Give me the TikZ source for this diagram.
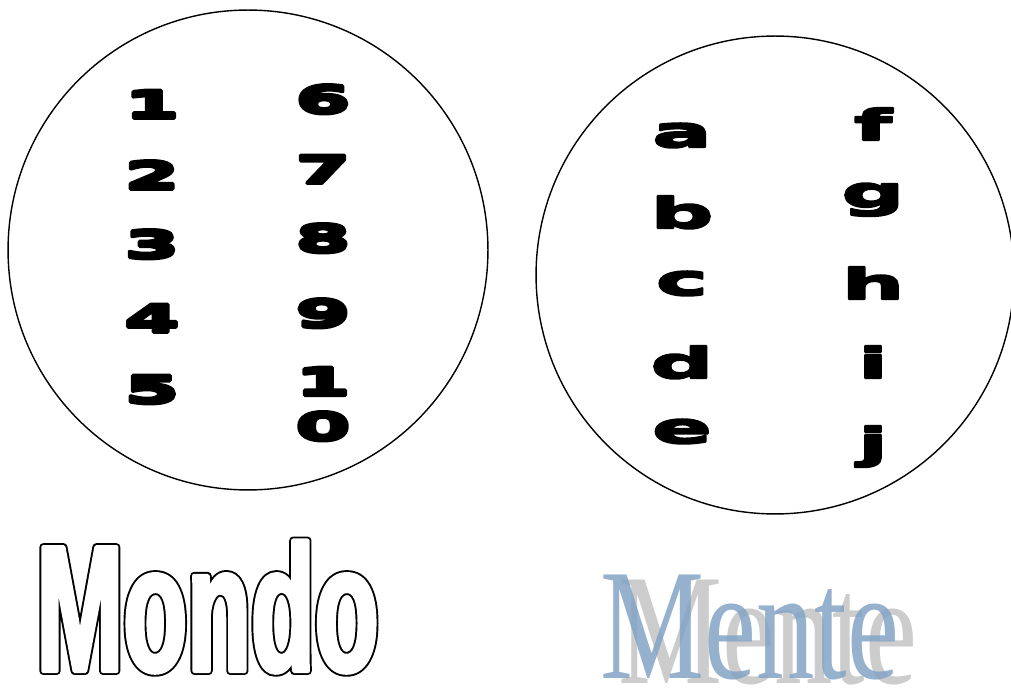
\documentclass[tikz,border=0pt]{standalone}
\usepackage{fontspec}
\usepackage{tikz}
\usetikzlibrary{positioning}
\newfontfamily\digitfont[FakeStretch=2.1]{DejaVu Sans Bold}
\newfontfamily\letterfont[FakeStretch=2.1]{DejaVu Sans Bold}
\newfontfamily\mondofont[FakeStretch=0.58]{Liberation Sans Bold}
\newfontfamily\mentefont[FakeStretch=0.74]{Liberation Serif}
\definecolor{menteblue}{RGB}{130,163,198}
\definecolor{menteshade}{RGB}{204,204,204}
\newcommand\heavyon[1]{\special{pdf:literal 2 Tr #1 w 1 j}}
\newcommand\inkoff{\special{pdf:literal 0 Tr}}
\newcommand\hollowword[1]{%
  \rlap{\special{pdf:literal 1 Tr 4.5 w 1 j}#1\inkoff}%
  {\color{white}\special{pdf:literal 2 Tr 2.3 w 1 j}#1\inkoff}}

\begin{document}
\begin{tikzpicture}[
        x = 0.02cm, y = 0.02cm,
        ring/.style={circle, draw, line width=0.8pt, inner sep=0pt},
        digit/.style={inner sep=0pt, anchor=base, font=\digitfont\fontsize{21.5}{25.5}\selectfont,
            execute at begin node=\heavyon{2.2}, execute at end node=\inkoff},
        letter/.style={inner sep=0pt, anchor=base, font=\letterfont\fontsize{24}{28}\selectfont,
            execute at begin node=\heavyon{1.3}, execute at end node=\inkoff},
        mondo/.style={inner sep=0pt, anchor=base west, font=\mondofont\fontsize{102.5}{110}\selectfont},
        mente/.style={inner sep=0pt, anchor=base west, font=\mentefont\fontsize{90}{100}\selectfont}
    ]
        \useasboundingbox (0,0) rectangle (1011,687);
        \node[ring, minimum size=9.6cm] (world) at (248,437) {};
        \node[ring, minimum size=9.56cm] (mind) at (775,412) {};

        \node[digit] (n1) at (152,569) {1};
        \node[digit] (n2) at (152,498) {2};
        \node[digit] (n3) at (152,429) {3};
        \node[digit] (n4) at (152,355) {4};
        \node[digit] (n5) at (152,284) {5};
        \node[digit] (n6) at (323,574) {6};
        \node[digit] (n7) at (323,504) {7};
        \node[digit] (n8) at (323,435) {8};
        \node[digit] (n9) at (323,360) {9};
        \node[digit, align=center] (n10) at (323,247) {1\\0};

        \node[letter] (la) at (682,540) {a};
        \node[letter] (lb) at (682,459) {b};
        \node[letter] (lc) at (682,392) {c};
        \node[letter] (ld) at (682,309) {d};
        \node[letter] (le) at (682,244) {e};
        \node[letter] (lf) at (873,547) {f};
        \node[letter] (lg) at (873,480) {g};
        \node[letter] (lh) at (873,388) {h};
        \node[letter] (li) at (873,309) {i};
        \node[letter] (lj) at (873,229) {j};

        \node[mondo] (mondo) at (36,16) {\hollowword{Mondo}};
        \node[mente, text=menteshade] (menteshadow) at (618,4) {Mente};
        \node[mente, text=menteblue, text opacity=0.85] (mente) at (600,9) {Mente};
\end{tikzpicture}
\end{document}
